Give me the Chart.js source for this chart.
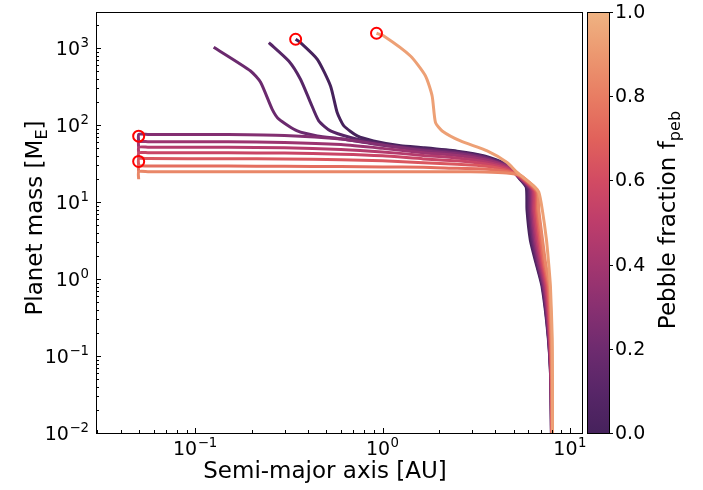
<!DOCTYPE html>
<html>
<head>
<meta charset="utf-8">
<script src="https://cdn.jsdelivr.net/npm/chart.js@4.4.1/dist/chart.umd.min.js"></script>
<style>
  html, body { margin: 0; padding: 0; background: #fff; }
</style>
</head>
<body>
<canvas id="chart" width="703" height="490"></canvas>
<script>
// pebble fraction of each track
const fPeb = [0.0, 0.1, 0.2, 0.3, 0.4, 0.5, 0.6, 0.7, 0.8, 0.9, 1.0];

// growth tracks: semi-major axis [AU] and mass [M_E], outer start -> inner end
const a00 = [7.97, 7.9, 7.65, 7.1, 6.6, 6.15, 5.9, 5.85, 5.4, 4.6, 3.5, 2.5, 1.65, 1.25, 0.895, 0.733, 0.622, 0.573, 0.528, 0.449, 0.365, 0.344];
const m00 = [0.01, 0.05, 0.18, 0.8, 1.6, 3.2, 8, 15.5, 20, 31, 40, 46, 51, 54, 62.5, 72.6, 98, 146, 324, 719, 1186, 1309];
const a01 = [7.97, 7.9, 7.67, 7.15, 6.65, 6.25, 6.0, 5.95, 5.4, 4.6, 3.5, 2.5, 1.65, 1.25, 0.895, 0.675, 0.528, 0.457, 0.413, 0.365, 0.316, 0.2475];
const m01 = [0.01, 0.05, 0.18, 0.8, 1.6, 3.2, 8, 15.2, 20.3, 30.5, 39, 45, 49.5, 52.5, 59.6, 69.2, 84.3, 114, 197, 396, 684, 1186];
const a02 = [7.97, 7.91, 7.69, 7.2, 6.72, 6.35, 6.1, 6.05, 5.4, 4.6, 3.5, 2.5, 1.65, 1.0, 0.6, 0.449, 0.351, 0.28, 0.258, 0.2236, 0.1977, 0.1256];
const m02 = [0.01, 0.05, 0.18, 0.8, 1.6, 3.2, 8, 15, 20.5, 30, 38, 44, 48, 55, 66.5, 72.6, 84.3, 120, 161, 362, 507, 1031];
const a03 = [7.98, 7.92, 7.72, 7.26, 6.8, 6.45, 6.2, 6.15, 5.4, 4.6, 3.5, 2.5, 1.65, 1.0, 0.6, 0.3, 0.15, 0.056, 0.05, 0.05];
const m03 = [0.01, 0.05, 0.18, 0.8, 1.6, 3.2, 8, 14.8, 20.8, 29.5, 37, 42.5, 46.5, 55.5, 66, 73.5, 75.5, 76, 76, 61];
const a04 = [7.99, 7.93, 7.75, 7.33, 6.9, 6.55, 6.3, 6.25, 5.4, 4.6, 3.5, 2.5, 1.65, 1.0, 0.6, 0.3, 0.15, 0.056, 0.05, 0.05];
const m04 = [0.01, 0.05, 0.18, 0.8, 1.6, 3.2, 8, 14.6, 21, 29, 35.5, 40.5, 44, 50, 56, 59.8, 60.8, 61, 61, 51.8];
const a05 = [8.0, 7.95, 7.79, 7.42, 7.0, 6.66, 6.4, 6.35, 5.4, 4.6, 3.5, 2.5, 1.65, 1.0, 0.6, 0.3, 0.15, 0.056, 0.05, 0.05];
const m05 = [0.01, 0.05, 0.18, 0.8, 1.6, 3.2, 8, 14.4, 21.2, 28, 33.5, 37.5, 40.5, 45, 48.5, 51, 51.6, 51.8, 51.8, 43.9];
const a06 = [8.01, 7.97, 7.83, 7.5, 7.1, 6.78, 6.5, 6.45, 5.4, 4.6, 3.5, 2.5, 1.65, 1.0, 0.6, 0.3, 0.15, 0.056, 0.05, 0.05];
const m06 = [0.01, 0.05, 0.18, 0.8, 1.6, 3.2, 8, 14.2, 21.5, 27, 31.5, 34.5, 36.5, 40, 42, 43.4, 43.8, 43.9, 43.9, 36.8];
const a07 = [8.02, 7.99, 7.88, 7.6, 7.2, 6.9, 6.62, 6.55, 5.4, 4.6, 3.5, 2.5, 1.65, 1.0, 0.6, 0.3, 0.15, 0.056, 0.05, 0.05];
const m07 = [0.01, 0.05, 0.18, 0.8, 1.6, 3.2, 8, 14, 21.8, 26, 29.5, 31, 32.5, 34.5, 35.5, 36.5, 36.7, 36.8, 36.8, 29.4];
const a08 = [8.03, 8.01, 7.92, 7.7, 7.3, 7.02, 6.72, 6.65, 5.4, 4.6, 3.5, 2.5, 1.65, 1.0, 0.6, 0.3, 0.15, 0.056, 0.05, 0.05];
const m08 = [0.01, 0.05, 0.18, 0.8, 1.6, 3.2, 8, 13.8, 22.2, 25, 27, 27.5, 28.5, 28.6, 29, 29.3, 29.4, 29.4, 29.4, 24.9];
const a09 = [8.05, 8.03, 7.96, 7.8, 7.42, 7.15, 6.82, 6.75, 6.0, 5.4, 4.6, 3.5, 2.5, 1.65, 1.0, 0.6, 0.3, 0.15, 0.056, 0.05, 0.05];
const m09 = [0.01, 0.05, 0.18, 0.8, 1.6, 3.2, 8, 13.6, 18.5, 22.5, 24, 24.7, 24.9, 24.9, 24.9, 24.9, 24.9, 24.9, 24.9, 24.9, 19.8];
const a10 = [8.07, 8.07, 8.05, 7.87, 7.7, 7.5, 7.12, 6.82, 6.41, 5.23, 4.62, 3.62, 2.606, 2.082, 1.918, 1.84, 1.696, 1.41, 1.016, 0.929];
const m10 = [0.01, 0.05, 0.166, 0.81, 1.6, 3.2, 8, 13.5, 16.3, 24.3, 32.8, 46.4, 62.5, 84.3, 108, 240, 437, 794, 1445, 1566];

const trackA = [a00, a01, a02, a03, a04, a05, a06, a07, a08, a09, a10];
const trackM = [m00, m01, m02, m03, m04, m05, m06, m07, m08, m09, m10];

// marked end points (red circles)
const circleA = [0.344, 0.929, 0.05, 0.05];
const circleM = [1309, 1566, 72, 33.8];

// tick labels (exponents of ten)
const xTickExp = [-1, 0, 1];
const yTickExp = [-2, -1, 0, 1, 2, 3];
const cbarTicks = [0.0, 0.2, 0.4, 0.6, 0.8, 1.0];

// colormap (dark purple -> light orange)
const cmapStops = [
  [0.0, [70, 34, 92]],
  [0.1, [88, 38, 104]],
  [0.2, [110, 43, 111]],
  [0.3, [137, 48, 113]],
  [0.4, [164, 54, 111]],
  [0.5, [189, 61, 107]],
  [0.6, [210, 75, 99]],
  [0.7, [225, 98, 91]],
  [0.8, [232, 125, 99]],
  [0.9, [236, 152, 112]],
  [1.0, [239, 179, 130]]
];

function cmap(f) {
  for (let i = 0; i < cmapStops.length - 1; i++) {
    const [f0, c0] = cmapStops[i];
    const [f1, c1] = cmapStops[i + 1];
    if (f <= f1) {
      const t = (f - f0) / (f1 - f0);
      const c = c0.map((v, k) => Math.round(v + (c1[k] - v) * t));
      return `rgb(${c[0]},${c[1]},${c[2]})`;
    }
  }
  const c = cmapStops[cmapStops.length - 1][1];
  return `rgb(${c[0]},${c[1]},${c[2]})`;
}

const FONT = "'DejaVu Sans', sans-serif";

const datasets = fPeb.map((f, i) => ({
  data: trackA[i].map((a, j) => ({ x: a, y: trackM[i][j] })),
  showLine: true,
  borderColor: cmap(f * 0.93),
  borderWidth: 3,
  pointRadius: 0,
  tension: 0.2,
  fill: false,
  order: 20 - i
}));

datasets.push({
  data: circleA.map((a, j) => ({ x: a, y: circleM[j] })),
  showLine: false,
  pointRadius: 5.5,
  pointBorderColor: '#ff0000',
  pointBackgroundColor: 'rgba(0,0,0,0)',
  pointBorderWidth: 2,
  order: 0
});

function drawText(ctx, parts, cx, cy, rot, size) {
  // parts: [text, isSub]
  ctx.save();
  ctx.translate(cx, cy);
  ctx.rotate(rot);
  const subSize = size * 0.7;
  let total = 0;
  parts.forEach(([t, s]) => {
    ctx.font = `${s ? subSize : size}px ${FONT}`;
    total += ctx.measureText(t).width;
  });
  let x = -total / 2;
  ctx.textBaseline = 'alphabetic';
  ctx.textAlign = 'left';
  ctx.fillStyle = '#000';
  parts.forEach(([t, s]) => {
    ctx.font = `${s ? subSize : size}px ${FONT}`;
    ctx.fillText(t, x, s ? size * 0.55 : size * 0.36);
    x += ctx.measureText(t).width;
  });
  ctx.restore();
}

// "10" with a raised exponent; align: 'center' or 'right' about x, baseline y
function drawPow(ctx, exp, x, y, align) {
  const base = '10';
  const sup = exp < 0 ? '\u2212' + (-exp) : String(exp);
  ctx.font = `19px ${FONT}`;
  const wb = ctx.measureText(base).width;
  ctx.font = `13.3px ${FONT}`;
  const ws = ctx.measureText(sup).width;
  const w = wb + ws + 0.5;
  const x0 = align === 'right' ? x - w : x - w / 2;
  ctx.textAlign = 'left';
  ctx.textBaseline = 'alphabetic';
  ctx.fillStyle = '#000';
  ctx.font = `19px ${FONT}`;
  ctx.fillText(base, x0, y);
  ctx.font = `13.3px ${FONT}`;
  ctx.fillText(sup, x0 + wb + 0.5, y - 8);
}

const framePlugin = {
  id: 'frame',
  afterDraw(chart) {
    const ctx = chart.ctx;
    const area = chart.chartArea;
    const xs = chart.scales.x;
    const ys = chart.scales.y;
    ctx.save();
    ctx.strokeStyle = '#000';
    ctx.lineWidth = 1;

    // inward ticks
    for (let k = -2; k <= 1; k++) {
      for (let j = 1; j <= 9; j++) {
        const v = j * Math.pow(10, k);
        if (v < xs.min || v > xs.max) continue;
        const px = Math.round(xs.getPixelForValue(v)) + 0.5;
        const len = j === 1 ? 5 : 3;
        ctx.beginPath();
        ctx.moveTo(px, area.bottom);
        ctx.lineTo(px, area.bottom - len);
        ctx.stroke();
      }
    }
    for (let k = -2; k <= 3; k++) {
      for (let j = 1; j <= 9; j++) {
        const v = j * Math.pow(10, k);
        if (v < ys.min || v > ys.max) continue;
        const py = Math.round(ys.getPixelForValue(v)) + 0.5;
        const len = j === 1 ? 5 : 3;
        ctx.beginPath();
        ctx.moveTo(area.left, py);
        ctx.lineTo(area.left + len, py);
        ctx.stroke();
      }
    }

    // tick labels
    xTickExp.forEach(e => drawPow(ctx, e, xs.getPixelForValue(Math.pow(10, e)), 455, 'center'));
    yTickExp.forEach(e => drawPow(ctx, e, 89, ys.getPixelForValue(Math.pow(10, e)) + 7, 'right'));

    // frame
    ctx.strokeRect(Math.round(area.left) + 0.5, Math.round(area.top) + 0.5,
      Math.round(area.right - area.left), Math.round(area.bottom - area.top));

    // colorbar
    const cbL = 587, cbR = 609, cbT = area.top, cbB = area.bottom;
    const grad = ctx.createLinearGradient(0, cbB, 0, cbT);
    cmapStops.forEach(([f]) => grad.addColorStop(f, cmap(f)));
    ctx.fillStyle = grad;
    ctx.fillRect(cbL, cbT, cbR - cbL, cbB - cbT);
    ctx.strokeRect(cbL + 0.5, Math.round(cbT) + 0.5, cbR - cbL, Math.round(cbB - cbT));
    ctx.fillStyle = '#000';
    ctx.font = `19px ${FONT}`;
    ctx.textBaseline = 'middle';
    ctx.textAlign = 'left';
    cbarTicks.forEach(t => {
      const py = Math.round(cbB - t * (cbB - cbT)) + 0.5;
      ctx.beginPath();
      ctx.moveTo(cbR, py);
      ctx.lineTo(cbR + 4, py);
      ctx.stroke();
      ctx.fillText(t.toFixed(1), cbR + 6, py + 1);
    });
    ctx.restore();

    // axis titles
    drawText(ctx, [['Semi-major axis [AU]', false]], 325, 470, 0, 23);
    drawText(ctx, [['Planet mass [M', false], ['E', true], [']', false]], 34, 218, -Math.PI / 2, 23);
    drawText(ctx, [['Pebble fraction f', false], ['peb', true]], 667, 220, -Math.PI / 2, 23);
  }
};

new Chart(document.getElementById('chart'), {
  type: 'scatter',
  data: { datasets },
  options: {
    responsive: false,
    animation: false,
    layout: { padding: { top: 12, right: 121, left: 0, bottom: 0 } },
    plugins: { legend: { display: false }, tooltip: { enabled: false } },
    scales: {
      x: {
        type: 'logarithmic',
        min: 0.0296,
        max: 11.6,
        grid: { display: false, drawTicks: false },
        border: { display: false },
        afterFit: s => { s.height = 57; },
        ticks: { display: false }
      },
      y: {
        type: 'logarithmic',
        min: 0.01,
        max: 2960,
        grid: { display: false, drawTicks: false },
        border: { display: false },
        afterFit: s => { s.width = 96; },
        ticks: { display: false }
      }
    }
  },
  plugins: [framePlugin]
});
</script>
</body>
</html>
